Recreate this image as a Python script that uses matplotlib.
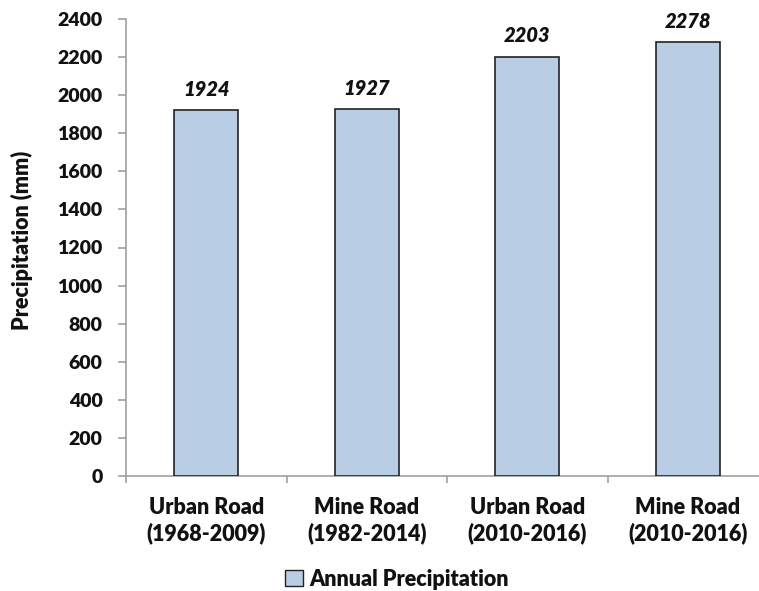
import matplotlib
matplotlib.use("Agg")
import matplotlib.pyplot as plt
from matplotlib.patches import Patch

categories = ["Urban Road\n(1968-2009)", "Mine Road\n(1982-2014)",
              "Urban Road\n(2010-2016)", "Mine Road\n(2010-2016)"]
values = [1924, 1927, 2203, 2278]
yticks = [0, 200, 400, 600, 800, 1000, 1200, 1400, 1600, 1800, 2000, 2200, 2400]
series_name = "Annual Precipitation"

W, H = 759, 591
fig = plt.figure(figsize=(W / 100, H / 100), dpi=100)
plt.rcParams["font.family"] = ["Lato", "DejaVu Sans"]

bar_color = "#b9cde4"
axis_gray = "#a0a0a0"
txt = "#111111"
wt = "heavy"

# axes frame; the right end runs slightly past the figure edge
ax = fig.add_axes([126 / W, 1 - 476 / H, (768 - 126) / W, (476 - 19) / H])
x = range(len(categories))
ax.bar(x, values, width=0.4, color=bar_color, edgecolor="#222222", linewidth=1.2, zorder=3)
ax.set_xlim(-0.5, len(categories) - 0.5)
ax.set_ylim(0, 2400)

for xi, v in zip(x, values):
    ax.annotate(f"{v}", (xi, v), xytext=(0, 8), textcoords="offset points",
                ha="center", va="bottom", fontsize=14.5, fontweight=wt,
                fontstyle="italic", color=txt)

for s in ["top", "right"]:
    ax.spines[s].set_visible(False)
for s in ["left", "bottom"]:
    ax.spines[s].set_color(axis_gray)
    ax.spines[s].set_linewidth(1.2)

ax.set_yticks(yticks)
ax.set_yticklabels([str(t) for t in yticks], fontsize=14, fontweight=wt, color=txt)
ax.tick_params(axis="y", length=5.8, width=1.2, color=axis_gray, pad=11)

# category labels centred under bars, tick marks at category boundaries
ax.set_xticks([i - 0.5 for i in range(len(categories) + 1)])
ax.set_xticklabels([""] * (len(categories) + 1))
ax.tick_params(axis="x", length=5, width=1.2, color=axis_gray)
for xi, lab in zip(x, categories):
    ax.text(xi, -0.045, lab, transform=ax.get_xaxis_transform(), ha="center", va="top",
            fontsize=15.5, fontweight=wt, linespacing=1.25, color=txt)

fig.text(22 / W, 1 - 240 / H, "Precipitation (mm)", rotation=90, ha="center", va="center",
         fontsize=15.5, fontweight=wt, color=txt)

handle = Patch(facecolor=bar_color, edgecolor="#222222", linewidth=1.0)
fig.legend([handle], [series_name], loc="center", bbox_to_anchor=(397 / W, 1 - 579 / H),
           frameon=False, prop={"size": 15.5, "weight": wt}, handlelength=0.8,
           handleheight=0.8, handletextpad=0.3, labelcolor=txt)

fig.savefig("out.png", dpi=100)
